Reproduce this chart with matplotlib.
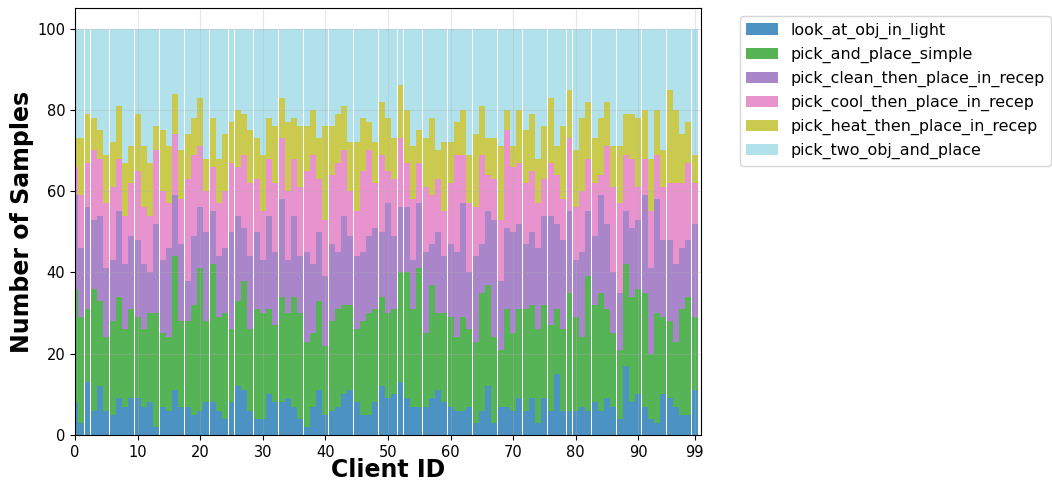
import numpy as np
import matplotlib
matplotlib.use("Agg")
import matplotlib.pyplot as plt

task_types = [
    "look_at_obj_in_light",
    "pick_and_place_simple",
    "pick_clean_then_place_in_recep",
    "pick_cool_then_place_in_recep",
    "pick_heat_then_place_in_recep",
    "pick_two_obj_and_place",
]

look_at_obj_in_light = [
    8, 3, 13, 6, 12, 6, 5, 9, 7, 9, 9, 7, 8, 2, 7, 6, 11, 7, 7, 5,
    6, 8, 8, 6, 4, 8, 12, 11, 6, 4, 4, 10, 8, 8, 9, 7, 4, 2, 7, 11,
    5, 6, 7, 10, 11, 8, 5, 5, 8, 12, 9, 10, 13, 9, 7, 7, 7, 9, 11, 8,
    7, 6, 6, 7, 3, 6, 12, 3, 7, 7, 6, 9, 6, 9, 3, 9, 6, 15, 6, 6,
    6, 7, 6, 8, 6, 9, 7, 4, 17, 8, 10, 7, 4, 3, 10, 9, 7, 5, 5, 11,
]
pick_and_place_simple = [
    28, 26, 18, 30, 21, 18, 23, 25, 19, 22, 20, 19, 22, 28, 18, 18, 33, 21, 21, 27,
    35, 20, 34, 23, 26, 18, 21, 27, 20, 27, 26, 21, 19, 26, 21, 27, 26, 21, 18, 22,
    17, 22, 24, 22, 21, 18, 23, 25, 23, 22, 21, 21, 27, 31, 24, 34, 18, 28, 19, 22,
    22, 18, 23, 19, 20, 29, 25, 21, 14, 24, 19, 22, 25, 23, 23, 23, 21, 16, 20, 29,
    23, 17, 33, 24, 29, 22, 18, 17, 25, 26, 26, 28, 16, 27, 19, 19, 16, 26, 29, 18,
]
pick_clean_then_place_in_recep = [
    23, 17, 25, 17, 21, 17, 15, 21, 16, 18, 19, 16, 10, 22, 18, 22, 15, 19, 10, 17,
    15, 22, 13, 15, 16, 24, 21, 13, 18, 19, 13, 23, 18, 24, 13, 20, 14, 22, 17, 17,
    17, 19, 14, 22, 17, 18, 17, 19, 20, 16, 27, 18, 16, 16, 12, 16, 20, 10, 20, 14,
    18, 21, 28, 14, 21, 12, 18, 29, 17, 20, 25, 21, 16, 18, 20, 22, 27, 21, 22, 20,
    14, 21, 16, 17, 24, 21, 15, 14, 13, 17, 17, 24, 21, 28, 19, 20, 19, 15, 14, 23,
]
pick_cool_then_place_in_recep = [
    7, 13, 11, 17, 14, 16, 18, 13, 12, 13, 17, 14, 14, 18, 17, 11, 15, 11, 25, 20,
    15, 10, 11, 13, 14, 17, 12, 18, 18, 13, 12, 14, 17, 15, 17, 14, 17, 20, 27, 13,
    14, 17, 22, 16, 11, 11, 20, 21, 11, 19, 8, 14, 17, 11, 15, 10, 16, 12, 13, 11,
    15, 24, 12, 17, 12, 22, 9, 10, 15, 24, 16, 15, 15, 15, 11, 9, 13, 12, 10, 18,
    13, 15, 13, 13, 5, 19, 21, 22, 14, 17, 8, 9, 14, 11, 13, 14, 20, 16, 19, 10,
]
pick_heat_then_place_in_recep = [
    7, 14, 12, 8, 7, 12, 11, 13, 13, 9, 14, 15, 13, 6, 15, 14, 10, 12, 11, 9,
    12, 8, 12, 11, 14, 10, 14, 10, 13, 10, 14, 10, 14, 10, 17, 10, 15, 11, 11, 10,
    23, 12, 12, 11, 12, 17, 13, 7, 10, 13, 13, 10, 13, 13, 13, 8, 12, 19, 7, 17,
    10, 8, 11, 12, 18, 12, 9, 10, 18, 5, 5, 13, 13, 14, 11, 13, 16, 7, 18, 12,
    14, 18, 14, 11, 14, 11, 10, 14, 10, 11, 17, 12, 13, 11, 9, 23, 18, 12, 10, 7,
]
pick_two_obj_and_place = [
    27, 27, 21, 22, 25, 31, 28, 19, 33, 29, 21, 29, 33, 24, 25, 29, 16, 30, 26, 22,
    17, 32, 22, 32, 26, 23, 20, 21, 25, 27, 31, 22, 24, 17, 23, 22, 24, 24, 20, 27,
    24, 24, 21, 19, 28, 28, 22, 23, 28, 18, 22, 27, 14, 20, 29, 25, 27, 22, 30, 28,
    28, 23, 20, 31, 26, 19, 27, 27, 29, 20, 29, 20, 25, 21, 32, 24, 17, 29, 24, 15,
    30, 22, 18, 27, 22, 18, 29, 29, 21, 21, 22, 20, 32, 20, 30, 15, 20, 26, 23, 31,
]

series = [
    look_at_obj_in_light,
    pick_and_place_simple,
    pick_clean_then_place_in_recep,
    pick_cool_then_place_in_recep,
    pick_heat_then_place_in_recep,
    pick_two_obj_and_place,
]
client_ids = np.arange(len(look_at_obj_in_light))

colors = plt.cm.tab20(np.linspace(0, 1, len(task_types)))

fig = plt.figure(figsize=(10.52, 4.86), dpi=100)
ax = fig.add_axes([0.0713, 0.105, 0.5950, 0.878])

bottom = np.zeros(len(client_ids))
for name, vals, c in zip(task_types, series, colors):
    vals = np.array(vals)
    ax.bar(client_ids, vals, width=0.95, bottom=bottom, color=c, alpha=0.8,
           label=name, linewidth=0)
    bottom += vals

ax.set_xlim(0, 100)
ax.set_xticks([0, 10, 20, 30, 40, 50, 60, 70, 80, 90, 99])
ax.set_yticks([0, 20, 40, 60, 80, 100])
ax.tick_params(labelsize=10.5)
ax.grid(True, alpha=0.3)
ax.set_xlabel("Client ID", fontsize=17, fontweight="bold", labelpad=-1)
ax.set_ylabel("Number of Samples", fontsize=17, fontweight="bold", labelpad=2.5)
ax.legend(bbox_to_anchor=(1.05, 1), loc="upper left", fontsize=11.4)

fig.savefig("out.png", dpi=100)
